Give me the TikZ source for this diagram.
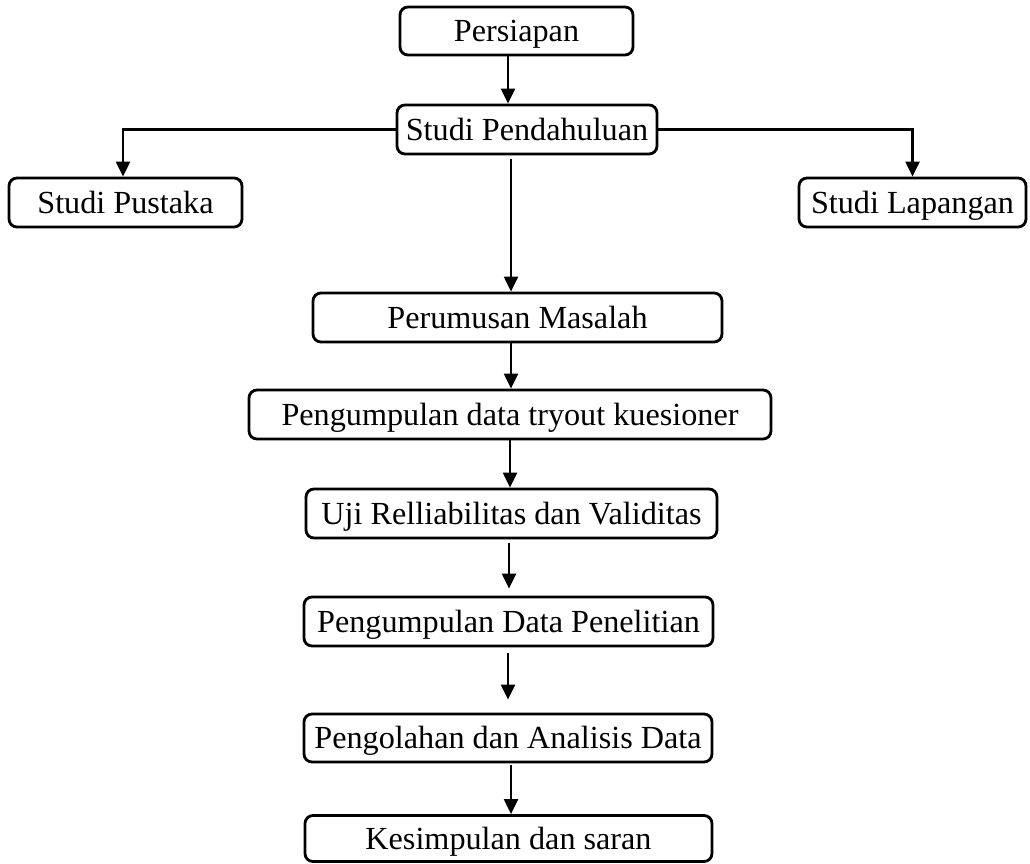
\documentclass[tikz,border=0pt]{standalone}
\usepackage{fontspec}
\setmainfont{Liberation Serif}
\usetikzlibrary{arrows.meta}
\begin{document}
\begin{tikzpicture}[x=1pt,y=-1pt,
  stepbox/.style={draw=black, line width=2.8pt, rounded corners=8pt, inner sep=0pt,
    text height=21pt, text depth=0pt,
    font=\fontsize{32.2}{38}\selectfont, text=black, anchor=center},
  arr/.style={draw=black, line width=2.2pt, -{Triangle[length=15pt,width=14pt]}}]
\useasboundingbox (0,0) rectangle (1030,863);
\node[stepbox, minimum width=233pt, minimum height=48pt] (persiapan) at (516.5,31) {Persiapan};
\node[stepbox, minimum width=260pt, minimum height=49pt] (pendahuluan) at (527,129.5) {Studi Pendahuluan};
\node[stepbox, minimum width=233pt, minimum height=49pt] (pustaka) at (125.5,202.5) {Studi Pustaka};
\node[stepbox, minimum width=227pt, minimum height=49pt] (lapangan) at (912.5,202.5) {Studi Lapangan};
\node[stepbox, minimum width=409pt, minimum height=49pt] (perumusan) at (517.5,317.5) {Perumusan Masalah};
\node[stepbox, minimum width=522pt, minimum height=49pt] (tryout) at (510,414.5) {Pengumpulan data tryout kuesioner};
\node[stepbox, minimum width=411pt, minimum height=49pt] (uji) at (511.5,513.5) {Uji Relliabilitas dan Validitas};
\node[stepbox, minimum width=409pt, minimum height=49pt] (pdp) at (508.5,621.5) {Pengumpulan Data Penelitian};
\node[stepbox, minimum width=408pt, minimum height=48pt] (olah) at (508,738) {Pengolahan dan Analisis Data};
\node[stepbox, minimum width=407pt, minimum height=46pt] (simpul) at (508.5,838.5) {Kesimpulan dan saran};

\draw[arr] (persiapan.south -| 508,0) -- (pendahuluan.north -| 508,0);
\draw[arr] (pendahuluan.west) -| ([xshift=-2.5pt]pustaka.north);
\draw[arr] (pendahuluan.east) -| (lapangan.north);
\draw[arr, shorten <=4pt] (pendahuluan.south -| 511,0) -- (perumusan.north -| 511,0);
\draw[arr] (perumusan.south -| 511,0) -- (tryout.north -| 511,0);
\draw[arr] (tryout.south -| 510,0) -- (uji.north -| 510,0);
\draw[arr, shorten <=4pt, shorten >=7pt] (uji.south -| 509,0) -- (pdp.north -| 509,0);
\draw[arr, shorten <=6pt, shorten >=13pt] (pdp.south -| 508,0) -- (olah.north -| 508,0);
\draw[arr, shorten <=2pt] (olah.south -| 511,0) -- (simpul.north -| 511,0);
\end{tikzpicture}
\end{document}
